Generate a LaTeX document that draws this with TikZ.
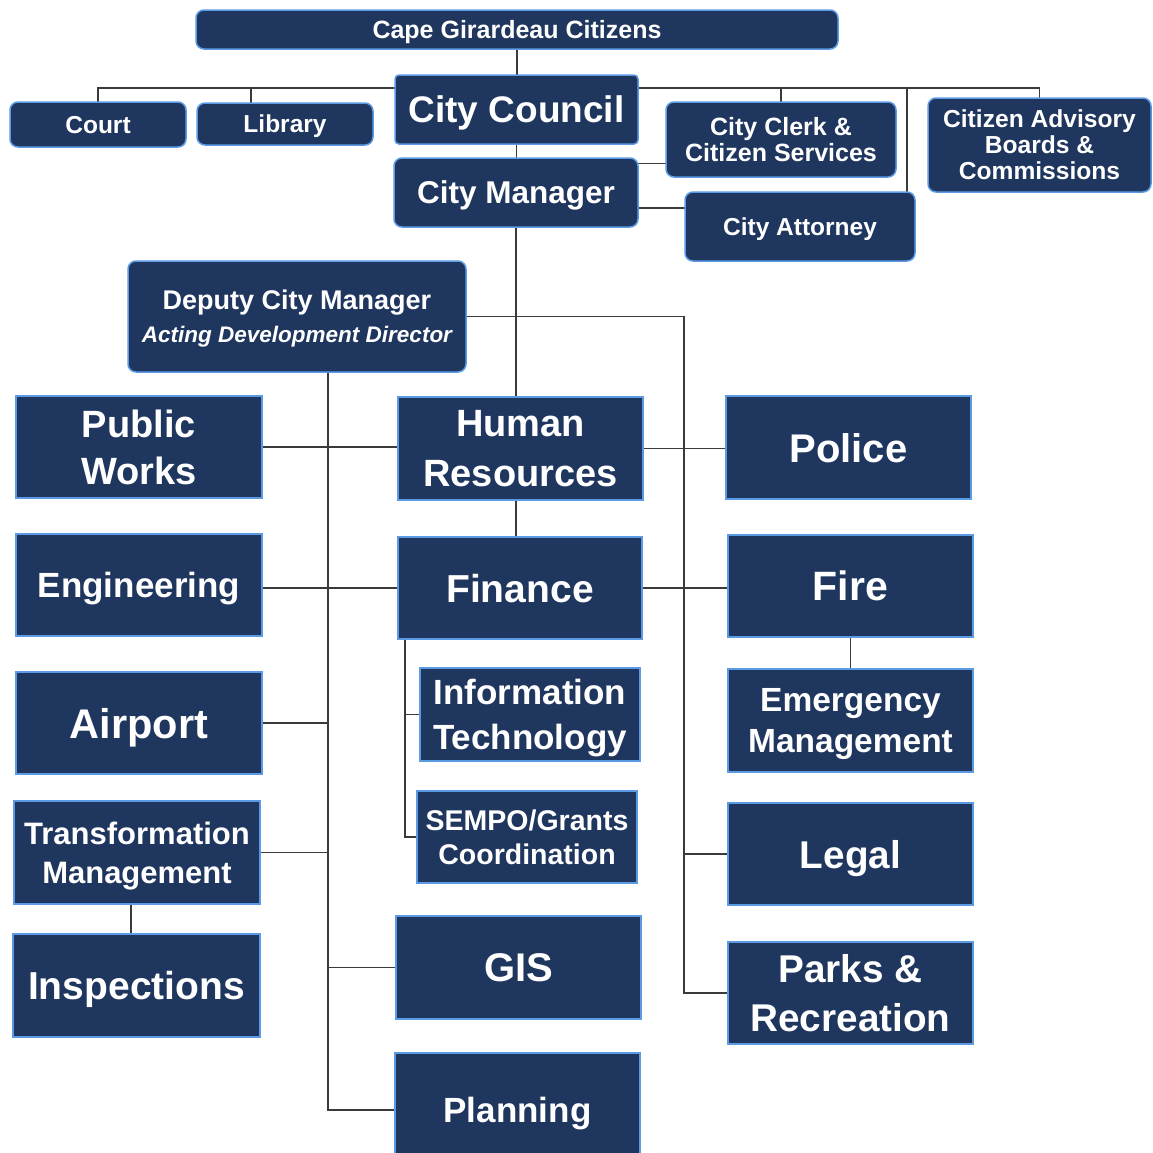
\documentclass[tikz,border=0pt]{standalone}
\usepackage{fontspec}
\setmainfont{Liberation Sans}
\usetikzlibrary{calc,backgrounds}
\definecolor{navy}{HTML}{1F365E}
\definecolor{edgeblue}{HTML}{5B9BE6}
\definecolor{linecol}{HTML}{3A3A3A}
\newcommand{\fsz}[2]{\fontsize{#1}{#2}\selectfont}
\begin{document}
\begin{tikzpicture}[x=1pt,y=-1pt,
  box/.style={draw=edgeblue, line width=1.5, fill=navy, text=white, align=center, inner sep=0pt, outer sep=0pt},
  rbox/.style={box, rounded corners=8},
  oneline/.style={text depth=0pt},
  link/.style={draw=linecol, line width=1.8}]
\useasboundingbox (0,0) rectangle (1153,1152);

% top level
\node[rbox, oneline, minimum width=642, minimum height=39, font=\bfseries\fsz{25}{28}] (cit) at (517,29.5) {Cape Girardeau Citizens};
\node[rbox, oneline, minimum width=176, minimum height=45, font=\bfseries\fsz{24.5}{27}] (court) at (98,124.5) {Court};
\node[rbox, oneline, minimum width=176, minimum height=42, font=\bfseries\fsz{24.5}{27}] (lib) at (285,124) {Library};
\node[box, oneline, rounded corners=4, minimum width=243, minimum height=69, font=\bfseries\fsz{37}{40}] (council) at (516.5,109.5) {City Council};
\node[rbox, oneline, minimum width=244, minimum height=69, font=\bfseries\fsz{31.5}{34}] (mgr) at (516,192.5) {City Manager};
\node[rbox, minimum width=230, minimum height=75, font=\bfseries\fsz{25}{26}] (clerk) at (781,139.5) {City Clerk \&\\Citizen Services};
\node[rbox, minimum width=223, minimum height=94, font=\bfseries\fsz{24.6}{26}] (adv) at (1039.5,145) {Citizen Advisory\\Boards \&\\Commissions};
\node[rbox, oneline, minimum width=230, minimum height=69, font=\bfseries\fsz{24.5}{27}] (atty) at (800,226.5) {City Attorney};
\node[rbox, oneline, minimum width=338, minimum height=111, font=\bfseries\fsz{27}{33}] (dcm) at (297,316.5) {Deputy City Manager\\{\fsz{22.5}{33}\itshape Acting Development Director}};

% departments
\node[box, minimum width=246, minimum height=102, font=\bfseries\fsz{38}{47}] (pw) at (139,447) {Public\\Works};
\node[box, minimum width=245, minimum height=103, font=\bfseries\fsz{38}{50}] (hr) at (520.5,448.5) {Human\\Resources};
\node[box, oneline, minimum width=245, minimum height=103, font=\bfseries\fsz{40}{44}] (police) at (848.5,447.5) {Police};
\node[box, oneline, minimum width=246, minimum height=102, font=\bfseries\fsz{35}{40}] (eng) at (139,585) {Engineering};
\node[box, oneline, minimum width=244, minimum height=102, font=\bfseries\fsz{39}{42}] (fin) at (520,588) {Finance};
\node[box, oneline, minimum width=245, minimum height=102, font=\bfseries\fsz{41}{44}] (fire) at (850.5,586) {Fire};
\node[box, oneline, minimum width=220, minimum height=93, font=\bfseries\fsz{35}{45}] (it) at (530,714.5) {Information\\Technology};
\node[box, oneline, minimum width=245, minimum height=103, font=\bfseries\fsz{33.5}{41}] (em) at (850.5,720.5) {Emergency\\Management};
\node[box, oneline, minimum width=246, minimum height=102, font=\bfseries\fsz{41.5}{44}] (air) at (139,723) {Airport};
\node[box, minimum width=220, minimum height=92, font=\bfseries\fsz{28.5}{34}] (sempo) at (527,837) {SEMPO/Grants\\Coordination};
\node[box, oneline, minimum width=246, minimum height=103, font=\bfseries\fsz{31}{39}] (tm) at (137,852.5) {Transformation\\Management};
\node[box, oneline, minimum width=245, minimum height=102, font=\bfseries\fsz{38.7}{42}] (legal) at (850.5,854) {Legal};
\node[box, oneline, minimum width=247, minimum height=103, font=\bfseries\fsz{39}{42}] (insp) at (136.5,985.5) {Inspections};
\node[box, oneline, minimum width=245, minimum height=103, font=\bfseries\fsz{40}{43}] (gis) at (518.5,967.5) {GIS};
\node[box, minimum width=245, minimum height=102, font=\bfseries\fsz{38.7}{49}] (parks) at (850.5,993) {Parks \&\\Recreation};
\node[box, oneline, minimum width=245, minimum height=114, font=\bfseries\fsz{35}{38}] (plan) at (517.5,1110) {Planning};

% helper coordinates
\coordinate (bus) at (0,88);
\coordinate (lx) at (328,0);
\coordinate (rx) at (684,0);
\coordinate (fx) at (405,0);
\coordinate (libtop) at ($(lib.north west)!0.307!(lib.north east)$);
\coordinate (attytop) at ($(atty.north west)!0.965!(atty.north east)$);
\coordinate (mgrclerk) at ($(mgr.north east)!0.08!(mgr.south east)$);
\coordinate (mgratty) at ($(mgr.north east)!0.725!(mgr.south east)$);
\coordinate (tmbot) at ($(tm.south west)!0.475!(tm.south east)$);

\begin{scope}[on background layer]
\fill[white] (0,0) rectangle (1153,1152);
% top spine
\draw[link] (cit.south) -- (cit.south |- council.north);
\draw[link] (council.south) -- (council.south |- mgr.north);
\draw[link] (mgr.south) -- (mgr.south |- hr.north);
\draw[link] (hr.south -| mgr.south) -- (fin.north -| mgr.south);
% left bus
\draw[link] (council.west |- bus) -- (bus -| court.north) -- (court.north);
\draw[link] (libtop) -- (libtop |- bus);
% right bus
\draw[link] (council.east |- bus) -- (bus -| adv.north) -- (adv.north);
\draw[link] (clerk.north) -- (clerk.north |- bus);
\draw[link] (attytop) -- (attytop |- bus);
% manager side links
\draw[link] (mgrclerk) -- (mgrclerk -| clerk.west);
\draw[link] (mgratty) -- (mgratty -| atty.west);
% deputy right trunk
\draw[link] (dcm.east) -- (dcm.east -| rx) -- (rx |- parks.west) -- (parks.west);
\draw[link] (rx |- legal.west) -- (legal.west);
% deputy left trunk
\draw[link] (lx |- dcm.south) -- (lx |- plan.west) -- (plan.west);
\draw[link] (air.east) -- (lx |- air.east);
\draw[link] (tm.east) -- (lx |- tm.east);
\draw[link] (gis.west) -- (lx |- gis.west);
% cross rows
\draw[link] (pw.east) -- (pw.east -| hr.west);
\draw[link] (hr.east) -- (hr.east -| police.west);
\draw[link] (fin.west) -- (fin.west -| eng.east);
\draw[link] (fin.east) -- (fin.east -| fire.west);
% sub links
\draw[link] (fire.south) -- (fire.south |- em.north);
\draw[link] (tmbot) -- (tmbot |- insp.north);
\draw[link] (fx |- fin.south) -- (fx |- sempo.west) -- (sempo.west);
\draw[link] (fx |- it.west) -- (it.west);
\end{scope}
\end{tikzpicture}
\end{document}
